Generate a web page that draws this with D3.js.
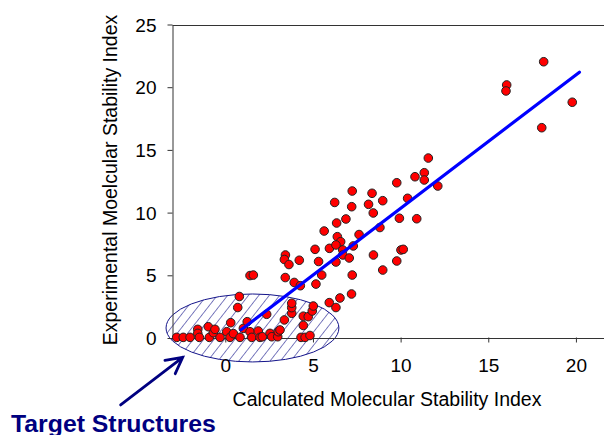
<!DOCTYPE html>
<html>
<head>
<meta charset="utf-8">
<script src="https://cdn.jsdelivr.net/npm/d3@7"></script>
<style>
  html, body { margin: 0; padding: 0; background: #fff; }
  svg { display: block; }
  text { font-family: "Liberation Sans", Arial, sans-serif; }
</style>
</head>
<body>
<svg id="chart" width="604" height="435"></svg>
<script>
// ---- Data ----
const calcX = [
  -2.77, -2.40, -2.01, -1.57, -1.57, -1.48, -0.97, -0.91, -0.68, -0.59,
  -0.30, 0.08, 0.27, 0.31, 0.46, 0.71, 0.80, 0.84, 1.03, 1.25,
  1.41, 1.51, 1.88, 1.98, 2.11, 2.36, 2.55, 2.65, 2.99, 3.02,
  3.12, 3.37, 3.79, 3.79, 3.79, 4.45, 4.45, 4.73, 4.96, 5.02,
  4.32, 4.55, 4.83, 5.17, 5.93, 6.31, 6.54, 7.20,
  1.41, 1.60, 3.43, 3.37, 3.63, 3.42, 3.93, 4.28, 4.22, 5.12,
  5.32, 5.50, 5.64, 5.94, 6.35, 6.24, 6.39, 6.58, 6.31, 6.70,
  6.70, 6.31, 6.88, 7.21, 7.24, 7.30, 7.07, 7.24, 7.63, 8.17,
  8.37, 8.44, 8.82, 8.98, 8.45, 8.98, 9.78, 9.78, 10.02, 10.15,
  9.93, 10.40, 10.92, 10.82, 11.35, 11.35, 11.58, 12.12,
  16.05, 16.01, 18.16, 18.05, 19.79
];
const expY = [
  0.05, 0.05, 0.05, 0.69, 0.37, 0.05, 0.90, 0.05, 0.42, 0.69,
  0.05, 0.50, 0.05, 1.22, 0.35, 2.43, 3.31, 0.05, 0.77, 1.30,
  0.50, 0.05, 0.56, 0.05, 0.10, 1.89, 0.37, 0.10, 0.10, 0.50,
  0.64, 1.44, 1.97, 2.42, 2.77, 1.00, 1.74, 1.70, 2.15, 2.55,
  0.05, 0.05, 0.20, 4.30, 2.82, 2.43, 3.19, 3.51,
  4.98, 5.02, 6.62, 6.26, 5.86, 4.82, 4.43, 4.17, 6.20, 7.07,
  6.10, 5.02, 8.53, 7.15, 9.17, 10.81, 8.08, 7.68, 7.42, 7.02,
  6.62, 6.06, 9.49, 10.47, 11.72, 7.34, 6.38, 5.02, 8.25, 10.66,
  11.54, 9.97, 8.81, 10.95, 6.62, 5.42, 12.38, 6.14, 7.02, 7.07,
  9.55, 11.14, 9.51, 12.86, 13.18, 12.60, 14.35, 12.12,
  20.18, 19.70, 22.03, 16.77, 18.80
];
const fitX = [0.9, 20.2];
const fitY = [0.65, 21.2];
const xTicks = [0, 5, 10, 15, 20];
const yTicks = [0, 5, 10, 15, 20, 25];
const xTitle = "Calculated Molecular Stability Index";
const yTitle = "Experimental Moelcular Stability Index";
const noteText = "Target Structures";
// highlighted region (data units): centre, radii
const regionCenter = [1.55, 0.8];
const regionRadius = [4.93, 2.71];
// arrow annotation (data units): tail, head
const arrowTail = [-5.97, -5.34];
const arrowHead = [-2.43, -1.54];

// ---- Drawing ----
const svg = d3.select("#chart");
const x = d3.scaleLinear().domain([-3, 22]).range([172.7, 611]);
const y = d3.scaleLinear().domain([0, 25]).range([338, 24.5]);

const navy = "#000080";
const hatchCol = "#14148a";

const defs = svg.append("defs");
const pat = defs.append("pattern")
  .attr("id", "hatch")
  .attr("patternUnits", "userSpaceOnUse")
  .attr("width", 8.2).attr("height", 8.2)
  .attr("patternTransform", "rotate(38)");
pat.append("line")
  .attr("x1", 0).attr("y1", 0).attr("x2", 0).attr("y2", 8.2)
  .attr("stroke", hatchCol).attr("stroke-width", 1.1);

// ellipse region
svg.append("ellipse")
  .attr("cx", x(regionCenter[0]))
  .attr("cy", y(regionCenter[1]))
  .attr("rx", x(regionCenter[0] + regionRadius[0]) - x(regionCenter[0]))
  .attr("ry", y(regionCenter[1]) - y(regionCenter[1] + regionRadius[1]))
  .attr("fill", "url(#hatch)")
  .attr("stroke", hatchCol)
  .attr("stroke-width", 1);

// axes
const axisCol = "#333";
const gx = svg.append("g")
  .attr("transform", "translate(0,337.5)")
  .call(d3.axisBottom(x).tickValues(xTicks).tickSize(5).tickSizeOuter(0).tickPadding(16));
const gy = svg.append("g")
  .attr("transform", "translate(172.5,0)")
  .call(d3.axisLeft(y).tickValues(yTicks).tickSize(5).tickSizeOuter(0).tickPadding(11));
[gx, gy].forEach(g => {
  g.selectAll("path, line").attr("stroke", axisCol);
  g.selectAll("text")
    .attr("fill", "#000")
    .style("font-family", "'Liberation Sans', Arial, sans-serif")
    .style("font-size", "19px");
});
gy.selectAll("text").attr("dy", "0.35em");
gx.select(".domain").attr("transform", "translate(0,0.5)");

// top frame line
svg.append("line")
  .attr("x1", x(-3)).attr("x2", x(22))
  .attr("y1", Math.round(y(25)) + 0.5).attr("y2", Math.round(y(25)) + 0.5)
  .attr("stroke", axisCol).attr("stroke-width", 1);

// axis titles
svg.append("text")
  .attr("x", 387).attr("y", 406)
  .attr("text-anchor", "middle")
  .style("font-size", "19.5px")
  .text(xTitle);
svg.append("text")
  .attr("transform", "translate(117,180) rotate(-90)")
  .attr("text-anchor", "middle")
  .style("font-size", "19.5px")
  .text(yTitle);

// points
const pts = calcX.map((v, i) => ({ x: v, y: expY[i] }));
svg.append("g").selectAll("circle")
  .data(pts)
  .join("circle")
  .attr("cx", d => x(d.x))
  .attr("cy", d => y(d.y))
  .attr("r", 4.3)
  .attr("fill", "#ff0000")
  .attr("stroke", "#222")
  .attr("stroke-width", 1);

// regression line
const fit = fitX.map((v, i) => [v, fitY[i]]);
svg.append("path")
  .datum(fit)
  .attr("d", d3.line().x(d => x(d[0])).y(d => y(d[1])))
  .attr("fill", "none")
  .attr("stroke", "#0000ff")
  .attr("stroke-width", 3.2)
  .attr("stroke-linecap", "round");

// arrow annotation
const tx = x(arrowTail[0]), ty = y(arrowTail[1]);
const hx = x(arrowHead[0]), hy = y(arrowHead[1]);
const ang = Math.atan2(ty - hy, tx - hx);
const wing = 18, spread = 28 * Math.PI / 180;
const w1 = [hx + wing * Math.cos(ang + spread), hy + wing * Math.sin(ang + spread)];
const w2 = [hx + wing * Math.cos(ang - spread), hy + wing * Math.sin(ang - spread)];
svg.append("path")
  .attr("d", `M${tx},${ty}L${hx},${hy}M${w1[0]},${w1[1]}L${hx},${hy}L${w2[0]},${w2[1]}`)
  .attr("fill", "none")
  .attr("stroke", navy)
  .attr("stroke-width", 2.8)
  .attr("stroke-linecap", "round")
  .attr("stroke-linejoin", "miter");

svg.append("text")
  .attr("x", 11).attr("y", 431.5)
  .style("font-size", "24.8px")
  .style("font-weight", "bold")
  .attr("fill", navy)
  .text(noteText);
</script>
</body>
</html>
